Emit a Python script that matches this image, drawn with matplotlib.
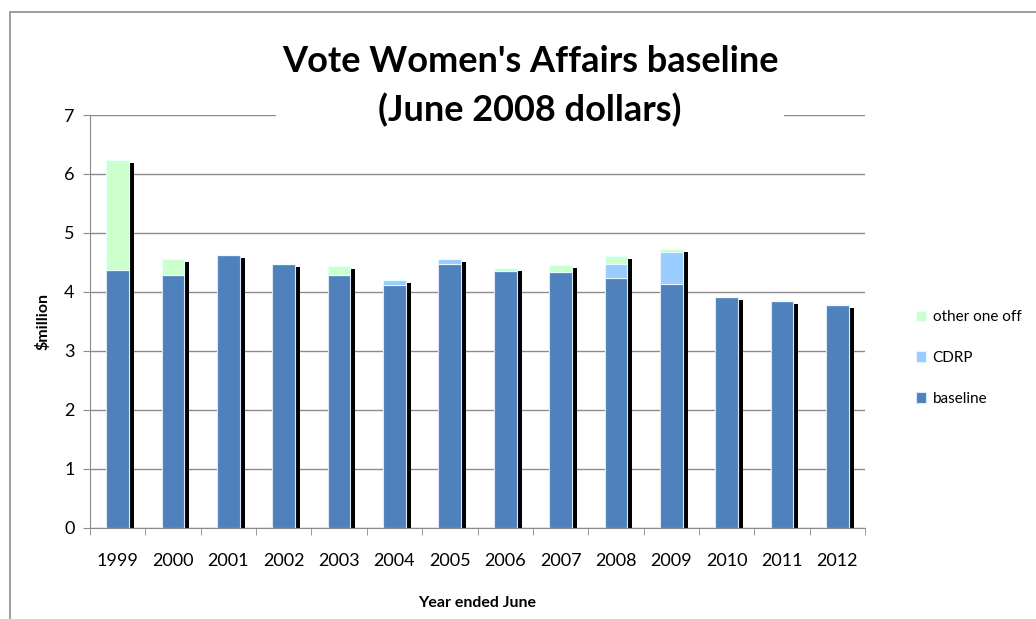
import matplotlib
matplotlib.use("Agg")
import matplotlib.pyplot as plt
import matplotlib.transforms as mtransforms
from matplotlib.patches import Rectangle
import numpy as np

plt.rcParams['font.family'] = ['Lato', 'DejaVu Sans']

years = ["1999", "2000", "2001", "2002", "2003", "2004", "2005",
         "2006", "2007", "2008", "2009", "2010", "2011", "2012"]
baseline = [4.37, 4.28, 4.62, 4.48, 4.28, 4.11, 4.48, 4.36, 4.34, 4.23, 4.14, 3.92, 3.84, 3.77]
cdrp = [0, 0, 0, 0, 0, 0.09, 0.08, 0, 0, 0.25, 0.53, 0, 0, 0]
other = [1.87, 0.27, 0, 0, 0.16, 0, 0, 0.05, 0.12, 0.12, 0.05, 0, 0, 0]

fig = plt.figure(figsize=(10.36, 6.19), dpi=100)
ax = fig.add_axes([90/1036, 1-527.5/619, 775/1036, (527.5-115)/619])

x = np.arange(len(years))
w = 0.41
base = np.array(baseline)
cd = np.array(cdrp)
ot = np.array(other)
total = base + cd + ot

# black shadow behind each stack, shifted right and down a few pixels
shift = mtransforms.ScaledTranslation(5/100, -3/100, fig.dpi_scale_trans)
shadow = ax.bar(x, total, w, color='black', zorder=2)
for p in shadow:
    p.set_transform(ax.transData + shift)

ax.bar(x, base, w, color='#4F81BD', edgecolor='#DDE8F5', linewidth=0.8, zorder=3, label='baseline')
ax.bar(x, cd, w, bottom=base, color='#99CCFF', edgecolor='#EAF4FF', linewidth=0.8, zorder=3, label='CDRP')
ax.bar(x, ot, w, bottom=base + cd, color='#CCFFCC', edgecolor='#E6FFFF', linewidth=0.8, zorder=3, label='other one off')

ax.set_xlim(-0.5, len(years) - 0.5)
ax.set_ylim(0, 7)
ax.set_yticks(range(0, 8))
ax.yaxis.grid(True, color='#8C8C8C', linewidth=1)
ax.set_axisbelow(True)
ax.set_xticks(x)
ax.set_xticklabels(years)
ax.set_xticks(np.arange(-0.5, len(years)), minor=True)
ax.tick_params(axis='x', which='major', length=0, pad=18, labelsize=13)
ax.tick_params(axis='x', which='minor', length=5, color='#8C8C8C', direction='out')
ax.tick_params(axis='y', length=5, color='#8C8C8C', labelsize=13, pad=6)
for s in ['top', 'right']:
    ax.spines[s].set_visible(False)
ax.spines['left'].set_color('#8C8C8C')
ax.spines['bottom'].set_color('#8C8C8C')

ax.set_ylabel('$million', fontweight='bold', fontsize=11.5, labelpad=10)
ax.set_xlabel('Year ended June', fontweight='bold', fontsize=11.5, labelpad=20)

fig.text(530/1036, 1-86/619, "Vote Women's Affairs baseline\n(June 2008 dollars)",
         ha='center', va='center', fontsize=26, fontweight='bold', linespacing=1.5,
         bbox=dict(facecolor='white', edgecolor='none', pad=4), zorder=5)

h, l = ax.get_legend_handles_labels()
fig.legend(h[::-1], l[::-1], loc='center left', bbox_to_anchor=(902/1036, 1-358/619),
           frameon=False, fontsize=11, handlelength=0.7, handleheight=0.7,
           handletextpad=0.4, labelspacing=1.75)

fig.patches.append(Rectangle((10/1036, -0.1), 1.2, 1.1 - 12/619, transform=fig.transFigure,
                             fill=False, edgecolor='#8C8C8C', linewidth=1.2))

fig.savefig('out.png', dpi=100)
